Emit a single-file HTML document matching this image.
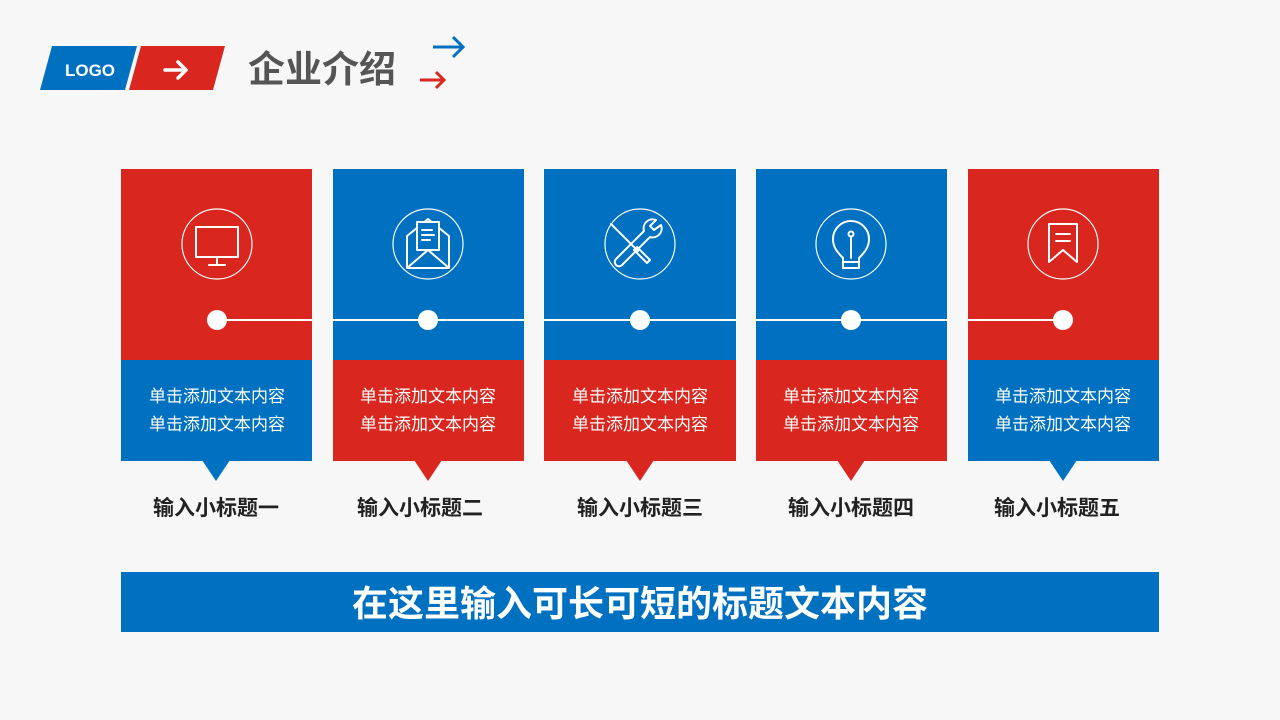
<!DOCTYPE html>
<html><head><meta charset="utf-8"><style>
html,body{margin:0;padding:0;background:#f7f7f7;}
svg{display:block}
text{font-family:"Liberation Sans","Noto Sans CJK SC",sans-serif;}
</style></head><body>
<svg width="1280" height="720" viewBox="0 0 1280 720" xmlns="http://www.w3.org/2000/svg">
<rect width="1280" height="720" fill="#f7f7f7"/>
<polygon points="52,46 137,46 125,90 40,90" fill="#0070c0"/>
<polygon points="141,46 225,46 213,90 129,90" fill="#d9261f"/>
<text x="90" y="76" font-size="17" font-weight="bold" fill="#fff" text-anchor="middle">LOGO</text>
<g stroke="#fff" stroke-width="3.5" fill="none" stroke-linecap="round" stroke-linejoin="round"><path d="M165 70h21M178 62l8 8-8 8"/></g>
<text x="248" y="82" font-size="37" font-weight="bold" fill="#555">企业介绍</text>
<g stroke="#0070c0" stroke-width="3" fill="none"><path d="M433 47h28M453 37l10 10-10 10"/></g>
<g stroke="#d9261f" stroke-width="3" fill="none"><path d="M420 80h22M436 72l8 8-8 8"/></g>

<rect x="121" y="169" width="191" height="191" fill="#d9261f"/>
<rect x="121" y="360" width="191" height="101" fill="#0070c0"/>
<polygon points="202,460 230,460 216,481" fill="#0070c0"/>
<rect x="333" y="169" width="191" height="191" fill="#0070c0"/>
<rect x="333" y="360" width="191" height="101" fill="#d9261f"/>
<polygon points="414,460 442,460 428,481" fill="#d9261f"/>
<rect x="544" y="169" width="192" height="191" fill="#0070c0"/>
<rect x="544" y="360" width="192" height="101" fill="#d9261f"/>
<polygon points="626,460 654,460 640,481" fill="#d9261f"/>
<rect x="756" y="169" width="191" height="191" fill="#0070c0"/>
<rect x="756" y="360" width="191" height="101" fill="#d9261f"/>
<polygon points="837,460 865,460 851,481" fill="#d9261f"/>
<rect x="968" y="169" width="191" height="191" fill="#d9261f"/>
<rect x="968" y="360" width="191" height="101" fill="#0070c0"/>
<polygon points="1049,460 1077,460 1063,481" fill="#0070c0"/>

<g stroke="#fff" stroke-width="2">
<line x1="217" y1="320" x2="312" y2="320"/>
<line x1="333" y1="320" x2="524" y2="320"/>
<line x1="544" y1="320" x2="736" y2="320"/>
<line x1="756" y1="320" x2="947" y2="320"/>
<line x1="968" y1="320" x2="1063" y2="320"/>
</g>
<g fill="#fff">
<circle cx="217" cy="320" r="10"/><circle cx="428" cy="320" r="10"/><circle cx="640" cy="320" r="10"/><circle cx="851" cy="320" r="10"/><circle cx="1063" cy="320" r="10"/>
</g>
<g stroke="#fff" stroke-width="1.2" fill="none">
<ellipse cx="217" cy="244" rx="35" ry="35"/>
<ellipse cx="428" cy="244" rx="35" ry="35"/>
<ellipse cx="640" cy="244" rx="35" ry="35"/>
<ellipse cx="851" cy="244" rx="35" ry="35"/>
<ellipse cx="1063" cy="244" rx="35" ry="35"/>
</g>
<g stroke="#fff" stroke-width="2" fill="none" stroke-linejoin="round" stroke-linecap="round">
<rect x="196" y="227" width="42" height="30"/><path d="M217 257v8M209 265h16"/>
<path d="M407 236v32h42v-32l-21-17z"/><path d="M407 268l21-18 21 18"/><rect x="417" y="222" width="22" height="28" fill="#0070c0"/><path d="M422 230h10M422 235h12M422 240h8"/>
<path d="M614 227l24 24M611 224l4 4M634 250l13 13 3 -3-13-13z"/><path d="M661 225a9 9 0 0 1-11 12l-28 28a3 3 0 0 1-6-6l28-28a9 9 0 0 1 12-11l-6 6 4 4z"/>
<path d="M843 268v-10c-6-6-10-11-10-19a18 18 0 0 1 36 0c0 8-4 13-10 19v10z"/><path d="M843 262h16M851 258v-20"/><circle cx="851" cy="234" r="2.5"/>
<path d="M1049 224h28v38l-14-12-14 12z"/><path d="M1056 234h14M1056 241h14"/>
</g>
<g font-size="17" fill="#fff" text-anchor="middle">
<text x="217" y="402">单击添加文本内容</text><text x="217" y="430">单击添加文本内容</text>
<text x="428" y="402">单击添加文本内容</text><text x="428" y="430">单击添加文本内容</text>
<text x="640" y="402">单击添加文本内容</text><text x="640" y="430">单击添加文本内容</text>
<text x="851" y="402">单击添加文本内容</text><text x="851" y="430">单击添加文本内容</text>
<text x="1063" y="402">单击添加文本内容</text><text x="1063" y="430">单击添加文本内容</text>
</g>
<g font-size="21" font-weight="bold" fill="#222" text-anchor="middle">
<text x="216" y="515">输入小标题一</text>
<text x="420" y="515">输入小标题二</text>
<text x="640" y="515">输入小标题三</text>
<text x="851" y="515">输入小标题四</text>
<text x="1057" y="515">输入小标题五</text>
</g>
<rect x="121" y="572" width="1038" height="60" fill="#0070c0"/>
<text x="640" y="616" font-size="36" font-weight="bold" fill="#fff" text-anchor="middle">在这里输入可长可短的标题文本内容</text>
</svg>
</body></html>
